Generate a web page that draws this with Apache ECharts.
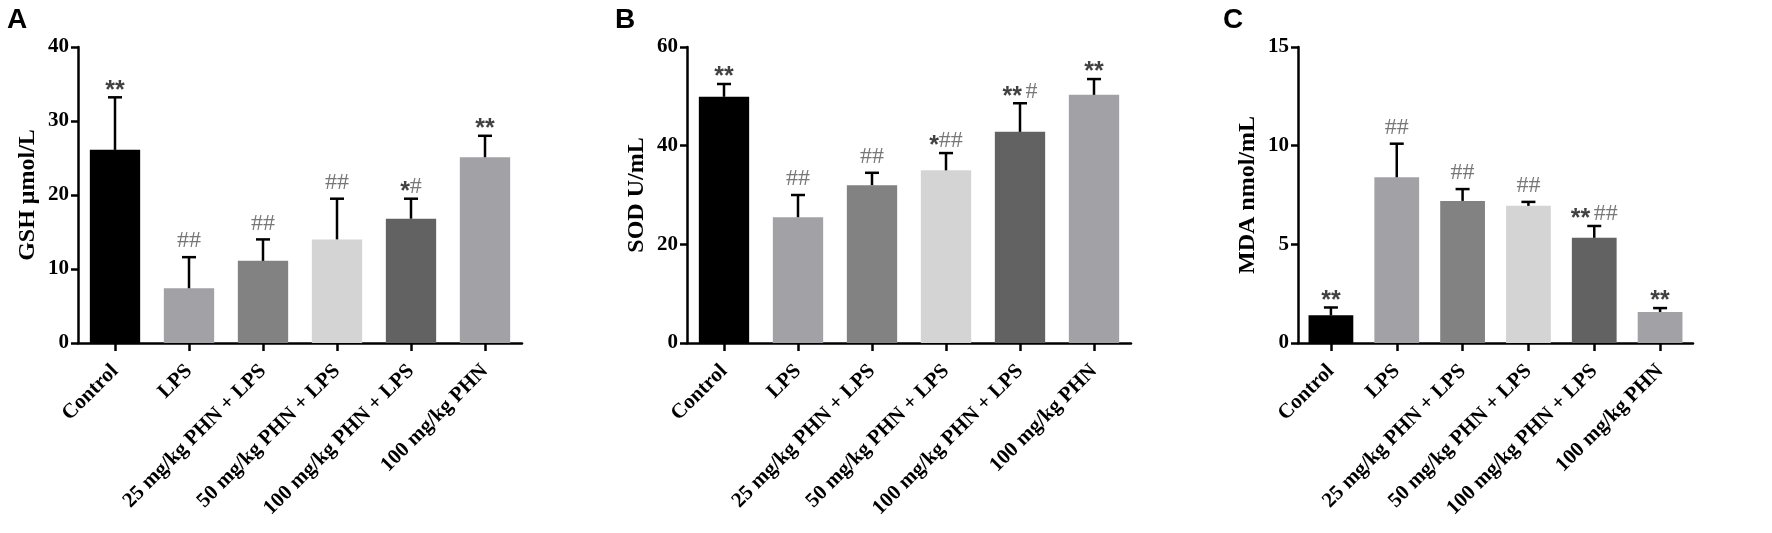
<!DOCTYPE html>
<html>
<head>
<meta charset="UTF-8">
<title>GSH SOD MDA</title>
<script src="https://cdn.jsdelivr.net/npm/echarts@6/dist/echarts.min.js"></script>
<style>
  html, body { margin: 0; padding: 0; background: #fff; }
  #main { width: 1772px; height: 533px; }
</style>
</head>
<body>
<div id="main"></div>
<script type="text/javascript">
// groups on the x axis
var categories = ['Control', 'LPS', '25 mg/kg PHN + LPS', '50 mg/kg PHN + LPS', '100 mg/kg PHN + LPS', '100 mg/kg PHN'];
var barColors = ['#000000', '#a2a2a6', '#828282', '#d4d4d4', '#626262', '#a2a2a6'];

// A - GSH
var gshMean = [26.1, 7.4, 11.1, 14.0, 16.8, 25.1];
var gshSD = [7.1, 4.2, 2.9, 5.5, 2.7, 2.9];
var gshMarks = ['**', '##', '##', '##', '*#', '**'];
var gshTicks = [0, 10, 20, 30, 40];

// B - SOD
var sodMean = [49.9, 25.5, 32.0, 35.0, 42.8, 50.3];
var sodSD = [2.6, 4.5, 2.5, 3.5, 5.8, 3.2];
var sodMarks = ['**', '##', '##', '*##', '** #', '**'];
var sodTicks = [0, 20, 40, 60];

// C - MDA
var mdaMean = [1.4, 8.4, 7.2, 6.95, 5.33, 1.57];
var mdaSD = [0.4, 1.7, 0.6, 0.2, 0.6, 0.2];
var mdaMarks = ['**', '##', '##', '##', '** ##', '**'];
var mdaTicks = [0, 5, 10, 15];

var panels = [
    { letter: 'A', name: 'GSH \u03bcmol/L', mean: gshMean, sd: gshSD, marks: gshMarks, ticks: gshTicks, left: 78, width: 444, letterX: 7 },
    { letter: 'B', name: 'SOD U/mL', mean: sodMean, sd: sodSD, marks: sodMarks, ticks: sodTicks, left: 687, width: 444, letterX: 615 },
    { letter: 'C', name: 'MDA nmol/mL', mean: mdaMean, sd: mdaSD, marks: mdaMarks, ticks: mdaTicks, left: 1298, width: 395, letterX: 1223 }
];

var serif = '"Liberation Serif", "DejaVu Serif", serif';

// ** in black sans, # in grey serif (hash sits a little lower when next to a star)
function markText(s) {
    var hs = s.indexOf('*') >= 0 ? 'h2' : 'h';
    var out = '';
    for (var i = 0; i < s.length; i++) {
        var c = s.charAt(i);
        if (c === '*') out += '{s|*}';
        else if (c === '#') out += '{' + hs + '|#}';
        else out += '{sp| }';
    }
    return out;
}

var option = {
    animation: false,
    backgroundColor: '#fff',
    title: [], grid: [], xAxis: [], yAxis: [], series: []
};

panels.forEach(function (p, k) {
    var t = p.ticks;
    option.title.push({
        text: p.letter, left: p.letterX, top: 6, padding: 0,
        textStyle: { fontFamily: '"Liberation Sans", Arial, sans-serif', fontWeight: 'bold', fontSize: 28, color: '#000' }
    });
    option.grid.push({ left: p.left, top: 47, width: p.width, height: 296 });
    option.xAxis.push({
        type: 'category', gridIndex: k, data: categories,
        axisLine: { lineStyle: { color: '#000', width: 2.5 } },
        axisTick: { show: true, alignWithLabel: true, length: 8, lineStyle: { width: 2.5, color: '#000' } },
        axisLabel: { rotate: 45, interval: 0, margin: 25, color: '#000', fontFamily: serif, fontWeight: 'bold', fontSize: 21 }
    });
    option.yAxis.push({
        type: 'value', gridIndex: k,
        min: t[0], max: t[t.length - 1], interval: t[1] - t[0],
        name: p.name, nameLocation: 'middle', nameGap: 38,
        nameTextStyle: { fontFamily: serif, fontWeight: 'bold', fontSize: 24, color: '#000' },
        splitLine: { show: false },
        axisLine: { show: true, lineStyle: { color: '#000', width: 2.5 } },
        axisTick: { show: true, length: 7, lineStyle: { width: 2.5, color: '#000' } },
        axisLabel: { color: '#000', fontFamily: serif, fontWeight: 'bold', fontSize: 21, margin: 9 }
    });
    option.series.push({
        type: 'bar', xAxisIndex: k, yAxisIndex: k, barWidth: '68%',
        data: p.mean.map(function (v, i) { return { value: v, itemStyle: { color: barColors[i] } }; })
    });
    // error bars (upper only)
    option.series.push({
        type: 'custom', xAxisIndex: k, yAxisIndex: k, z: 3,
        data: p.mean.map(function (v, i) { return [i, v, v + p.sd[i]]; }),
        renderItem: function (params, api) {
            var lo = api.coord([api.value(0), api.value(1)]);
            var hi = api.coord([api.value(0), api.value(2)]);
            var cap = 7;
            return {
                type: 'group',
                children: [
                    { type: 'line', shape: { x1: lo[0], y1: lo[1], x2: hi[0], y2: hi[1] }, style: { stroke: '#000', lineWidth: 2.5 } },
                    { type: 'line', shape: { x1: hi[0] - cap, y1: hi[1], x2: hi[0] + cap, y2: hi[1] }, style: { stroke: '#000', lineWidth: 2.5 } }
                ]
            };
        }
    });
    // significance marks above the error bars
    option.series.push({
        type: 'scatter', xAxisIndex: k, yAxisIndex: k, symbolSize: 0, z: 4,
        data: p.mean.map(function (v, i) { return { value: [i, v + p.sd[i]], mark: p.marks[i] }; }),
        label: {
            show: true, position: 'top', distance: -6,
            formatter: function (d) { return markText(d.data.mark); },
            rich: {
                s: { fontFamily: '"Liberation Sans", Arial, sans-serif', fontWeight: 'bold', fontSize: 25, color: '#111', padding: [12, 0, 0, 0], verticalAlign: 'bottom' },
                h: { fontFamily: serif, fontSize: 24, color: '#555', padding: [0, 0, 10, 0], verticalAlign: 'bottom' },
                h2: { fontFamily: serif, fontSize: 24, color: '#555', padding: [0, 0, 6, 0], verticalAlign: 'bottom' },
                sp: { fontSize: 12, verticalAlign: 'bottom' }
            }
        }
    });
});

var chart = echarts.init(document.getElementById('main'));
chart.setOption(option);
</script>
</body>
</html>
